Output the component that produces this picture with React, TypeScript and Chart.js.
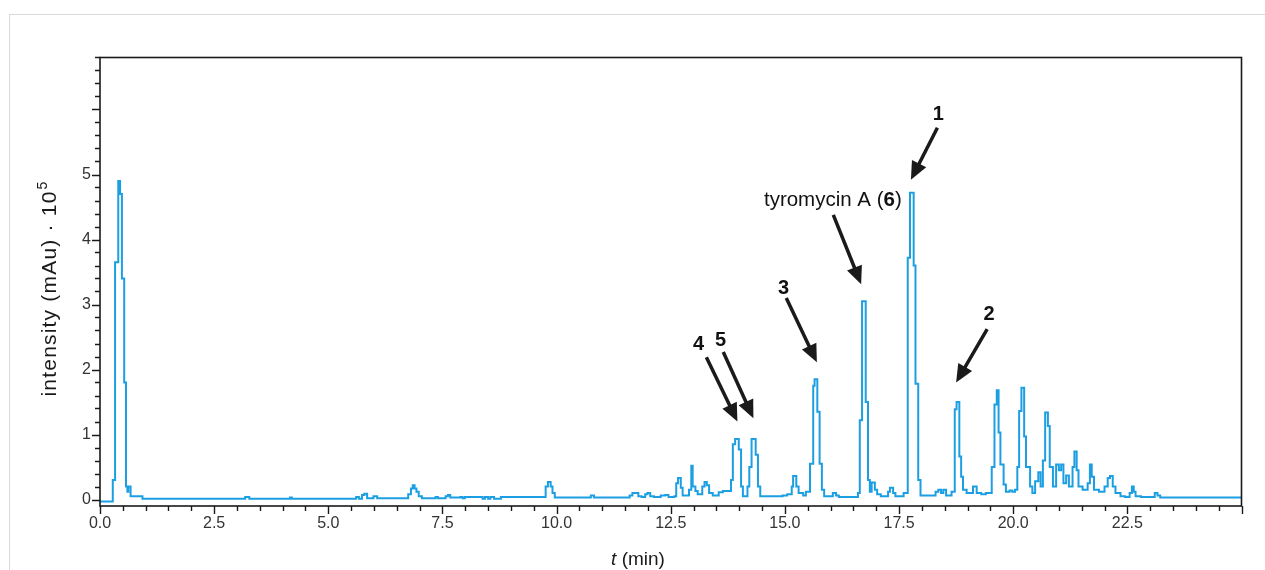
import React, { useEffect, useRef } from 'react';
import { Chart, registerables } from 'chart.js';

Chart.register(...registerables);

// ---- data (retention time in min, intensity in mAu x 10^5) ----
const times = [
  0.00, 0.28, 0.33, 0.40, 0.44, 0.48, 0.53, 0.57, 0.60, 0.62, 0.67, 0.93,
  3.18, 3.27, 4.16, 4.20, 5.61, 5.67, 5.74, 5.79, 5.85, 5.99, 6.07,
  6.75, 6.81, 6.85, 6.89, 6.93, 6.98, 7.05, 7.35, 7.40, 7.57, 7.62, 7.67,
  7.89, 7.94, 7.99, 8.38, 8.43, 8.50, 8.55, 8.63, 8.78,
  9.76, 9.81, 9.87, 9.91, 9.96, 10.75, 10.82,
  11.60, 11.66, 11.79, 11.86, 11.94, 11.99, 12.05, 12.13, 12.28, 12.38, 12.45,
  12.58, 12.62, 12.66, 12.72, 12.76, 12.90, 12.95, 12.98, 13.04, 13.09,
  13.19, 13.24, 13.29, 13.34, 13.42, 13.55, 13.64, 13.82, 13.86, 13.91, 13.99,
  14.04, 14.08, 14.18, 14.22, 14.27, 14.36, 14.41, 14.46,
  14.95, 15.05, 15.15, 15.18, 15.25, 15.30, 15.40, 15.46, 15.55, 15.62, 15.65,
  15.71, 15.76, 15.81, 15.86, 16.05, 16.12, 16.18,
  16.60, 16.64, 16.69, 16.77, 16.82, 16.86, 16.90, 16.97, 17.02, 17.10,
  17.26, 17.30, 17.37, 17.42, 17.60, 17.69, 17.74, 17.82, 17.86, 17.92, 17.97,
  18.30, 18.36, 18.42, 18.47, 18.53, 18.65, 18.72, 18.76, 18.82, 18.86, 18.90,
  18.98, 19.12, 19.20, 19.30, 19.40, 19.53, 19.59, 19.64, 19.68, 19.72, 19.79,
  19.84, 19.92, 19.98, 20.04, 20.09, 20.13, 20.18, 20.24, 20.28, 20.37, 20.42,
  20.48, 20.55, 20.60, 20.65, 20.70, 20.76, 20.80, 20.87, 20.94, 21.00, 21.05,
  21.10, 21.16, 21.22, 21.30, 21.34, 21.39, 21.43, 21.52, 21.63, 21.68, 21.72,
  21.77, 21.88, 22.00, 22.07, 22.12, 22.18, 22.24, 22.35, 22.45, 22.55, 22.60,
  22.64, 22.68, 22.80, 23.10, 23.16, 23.22, 25.00,
];

const intensity = [
  -0.03, 0.30, 3.65, 4.90, 4.70, 3.40, 1.80, 0.20, 0.12, 0.20, 0.05, 0.01,
  0.04, 0.01, 0.03, 0.01, 0.04, 0.01, 0.07, 0.09, 0.02, 0.05, 0.02,
  0.08, 0.17, 0.22, 0.17, 0.12, 0.05, 0.02, 0.04, 0.02, 0.05, 0.07, 0.03,
  0.04, 0.02, 0.04, 0.01, 0.04, 0.01, 0.04, 0.01, 0.04,
  0.20, 0.27, 0.20, 0.10, 0.03, 0.06, 0.03,
  0.06, 0.10, 0.05, 0.04, 0.08, 0.10, 0.05, 0.04, 0.06, 0.07, 0.04,
  0.05, 0.25, 0.33, 0.18, 0.06, 0.15, 0.52, 0.20, 0.13, 0.08,
  0.20, 0.27, 0.22, 0.10, 0.06, 0.11, 0.13, 0.30, 0.85, 0.93, 0.77,
  0.20, 0.05, 0.20, 0.50, 0.93, 0.69, 0.20, 0.05,
  0.06, 0.08, 0.20, 0.36, 0.20, 0.10, 0.06, 0.12, 0.55, 1.75, 1.85,
  1.35, 0.55, 0.15, 0.05, 0.10, 0.06, 0.04,
  0.10, 1.22, 3.05, 1.50, 0.30, 0.12, 0.26, 0.15, 0.08, 0.05,
  0.12, 0.18, 0.10, 0.05, 0.10, 3.72, 4.72, 3.60, 1.78, 0.30, 0.06,
  0.12, 0.15, 0.10, 0.15, 0.06, 0.12, 1.39, 1.50, 0.66, 0.35, 0.15,
  0.10, 0.20, 0.10, 0.08, 0.10, 0.50, 1.46, 1.68, 1.03, 0.54, 0.23,
  0.12, 0.14, 0.12, 0.15, 0.50, 1.36, 1.72, 0.97, 0.50, 0.20, 0.10,
  0.28, 0.42, 0.20, 0.60, 1.34, 1.13, 0.50, 0.20, 0.54, 0.45, 0.54,
  0.25, 0.37, 0.20, 0.50, 0.74, 0.45, 0.20, 0.15, 0.25, 0.54, 0.35,
  0.15, 0.12, 0.20, 0.33, 0.36, 0.20, 0.10, 0.05, 0.04, 0.10, 0.20,
  0.12, 0.05, 0.04, 0.10, 0.06, 0.03, 0.03,
];

// labelled ticks
const xTickValues = [0, 2.5, 5, 7.5, 10, 12.5, 15, 17.5, 20, 22.5];
const yTickValues = [0, 1, 2, 3, 4, 5];

// peak annotations: [time, intensity] of label, arrow tail and arrow tip
const annotationTexts = ['4', '5', '3', 'tyromycin A (6)', '1', '2'];
const annotationLabelAt = [[13.11, 2.38], [13.59, 2.44], [14.97, 3.25], [16.05, 4.61], [18.36, 5.92], [19.47, 2.84]];
const annotationTailAt = [[13.28, 2.19], [13.65, 2.27], [15.03, 3.10], [16.06, 4.38], [18.34, 5.72], [19.43, 2.62]];
const annotationTipAt = [[13.96, 1.20], [14.31, 1.25], [15.70, 2.11], [16.67, 3.31], [17.76, 4.92], [18.75, 1.80]];

const FONT = '"Liberation Sans", Arial, Helvetica, sans-serif';

const decorPlugin = {
  id: 'decor',
  beforeDraw(chart: any) {
    const ctx = chart.ctx;
    ctx.save();
    ctx.strokeStyle = '#d9d9d9';
    ctx.lineWidth = 1;
    ctx.beginPath();
    ctx.moveTo(9, 14.5);
    ctx.lineTo(1265, 14.5);
    ctx.moveTo(9.5, 14);
    ctx.lineTo(9.5, 570);
    ctx.stroke();
    ctx.restore();
  },
  afterDraw(chart: any) {
    const ctx = chart.ctx;
    const { left, right, top, bottom } = chart.chartArea;
    const xs = chart.scales.x;
    const ys = chart.scales.y;
    ctx.save();
    // frame
    ctx.strokeStyle = '#1a1a1a';
    ctx.lineWidth = 1.6;
    ctx.strokeRect(left, top, right - left, bottom - top);
    // tick marks
    ctx.lineWidth = 1.4;
    ctx.beginPath();
    for (let i = 0; i <= 50; i++) {
      const px = Math.round(xs.getPixelForValue(i * 0.5)) + 0.5;
      const len = i % 5 === 0 ? 8 : 5;
      ctx.moveTo(px, bottom);
      ctx.lineTo(px, bottom + len);
    }
    for (let i = 0; i <= 34; i++) {
      const py = Math.round(ys.getPixelForValue(i * 0.2)) + 0.5;
      const len = i % 5 === 0 ? 8 : 5;
      ctx.moveTo(left, py);
      ctx.lineTo(left - len, py);
    }
    ctx.stroke();

    // axis titles
    ctx.fillStyle = '#1a1a1a';
    ctx.textBaseline = 'middle';
    // x title: italic t
    const tPart = 't';
    const rest = ' (min)';
    ctx.font = `italic 19px ${FONT}`;
    const w1 = ctx.measureText(tPart).width;
    ctx.font = `19px ${FONT}`;
    const w2 = ctx.measureText(rest).width;
    const sx = 638 - (w1 + w2) / 2;
    ctx.textAlign = 'left';
    ctx.font = `italic 19px ${FONT}`;
    ctx.fillText(tPart, sx, 560);
    ctx.font = `19px ${FONT}`;
    ctx.fillText(rest, sx + w1, 560);

    // y title rotated
    ctx.save();
    ctx.translate(50, 289);
    ctx.rotate(-Math.PI / 2);
    try { (ctx as any).letterSpacing = '1.2px'; } catch (e) { /* ignore */ }
    const main = 'intensity (mAu) · 10';
    ctx.font = `21px ${FONT}`;
    const mw = ctx.measureText(main).width;
    ctx.font = `14px ${FONT}`;
    const sw = ctx.measureText('5').width;
    const startX = -(mw + sw) / 2;
    ctx.font = `21px ${FONT}`;
    ctx.fillText(main, startX, 0);
    ctx.font = `14px ${FONT}`;
    ctx.fillText('5', startX + mw + 1, -7);
    try { (ctx as any).letterSpacing = '0px'; } catch (e) { /* ignore */ }
    ctx.restore();

    // annotations
    for (let i = 0; i < annotationTexts.length; i++) {
      const tail = { x: xs.getPixelForValue(annotationTailAt[i][0]), y: ys.getPixelForValue(annotationTailAt[i][1]) };
      const tip = { x: xs.getPixelForValue(annotationTipAt[i][0]), y: ys.getPixelForValue(annotationTipAt[i][1]) };
      const dx = tip.x - tail.x;
      const dy = tip.y - tail.y;
      const len = Math.hypot(dx, dy);
      const ux = dx / len;
      const uy = dy / len;
      const headLen = 18;
      const headHalf = 8;
      const bx = tip.x - ux * headLen;
      const by = tip.y - uy * headLen;
      ctx.strokeStyle = '#1a1a1a';
      ctx.fillStyle = '#1a1a1a';
      ctx.lineWidth = 3.5;
      ctx.lineCap = 'butt';
      ctx.beginPath();
      ctx.moveTo(tail.x, tail.y);
      ctx.lineTo(bx + ux * 2, by + uy * 2);
      ctx.stroke();
      ctx.beginPath();
      ctx.moveTo(tip.x, tip.y);
      ctx.lineTo(bx - uy * headHalf, by + ux * headHalf);
      ctx.lineTo(bx + uy * headHalf, by - ux * headHalf);
      ctx.closePath();
      ctx.fill();

      const lx = xs.getPixelForValue(annotationLabelAt[i][0]);
      const ly = ys.getPixelForValue(annotationLabelAt[i][1]);
      const text = annotationTexts[i];
      ctx.textBaseline = 'middle';
      ctx.fillStyle = '#111';
      const m = text.match(/^(.*\()(\d+)(\).*)$/);
      if (m) {
        ctx.font = `20.5px ${FONT}`;
        const a = ctx.measureText(m[1]).width;
        const c = ctx.measureText(m[3]).width;
        ctx.font = `bold 20.5px ${FONT}`;
        const b = ctx.measureText(m[2]).width;
        const x0 = lx - (a + b + c) / 2;
        ctx.textAlign = 'left';
        ctx.font = `20.5px ${FONT}`;
        ctx.fillText(m[1], x0, ly);
        ctx.font = `bold 20.5px ${FONT}`;
        ctx.fillText(m[2], x0 + a, ly);
        ctx.font = `20.5px ${FONT}`;
        ctx.fillText(m[3], x0 + a + b, ly);
      } else {
        ctx.textAlign = 'center';
        ctx.font = `bold 20px ${FONT}`;
        ctx.fillText(text, lx, ly);
      }
    }
    ctx.restore();
  },
};

export default function App() {
  const canvasRef = useRef<HTMLCanvasElement | null>(null);

  useEffect(() => {
    const canvas = canvasRef.current;
    if (!canvas) return;
    const points = times.map((t, i) => ({ x: t, y: intensity[i] }));
    const chart = new Chart(canvas, {
      type: 'line',
      data: {
        datasets: [
          {
            data: points,
            borderColor: '#1c9fe2',
            borderWidth: 2,
            pointRadius: 0,
            stepped: true,
            fill: false,
          },
        ],
      },
      options: {
        responsive: false,
        animation: false,
        devicePixelRatio: 1,
        layout: { padding: { left: 0, right: 23.5, top: 57.5, bottom: 0 } },
        plugins: {
          legend: { display: false },
          tooltip: { enabled: false },
        },
        scales: {
          x: {
            type: 'linear',
            min: 0,
            max: 25,
            grid: { display: false, drawTicks: false },
            border: { display: false },
            afterBuildTicks: (s: any) => {
              s.ticks = xTickValues.map((v) => ({ value: v }));
            },
            afterFit: (s: any) => {
              s.height = 64;
            },
            ticks: {
              autoSkip: false,
              maxRotation: 0,
              padding: 8,
              color: '#333',
              font: { family: FONT, size: 16 },
              callback: (v: any) => Number(v).toFixed(1),
            },
          },
          y: {
            type: 'linear',
            min: -0.1,
            max: 6.8,
            grid: { display: false, drawTicks: false },
            border: { display: false },
            afterBuildTicks: (s: any) => {
              s.ticks = yTickValues.map((v) => ({ value: v }));
            },
            afterFit: (s: any) => {
              s.width = 100;
            },
            ticks: {
              autoSkip: false,
              padding: 9,
              color: '#333',
              font: { family: FONT, size: 16 },
              callback: (v: any) => String(v),
            },
          },
        },
      },
      plugins: [decorPlugin],
    } as any);
    return () => chart.destroy();
  }, []);

  return (
    <div style={{ position: 'absolute', left: 0, top: 0, width: 1265, height: 570, background: '#fff' }}>
      <canvas ref={canvasRef} width={1265} height={570} style={{ display: 'block', width: 1265, height: 570 }} />
    </div>
  );
}
